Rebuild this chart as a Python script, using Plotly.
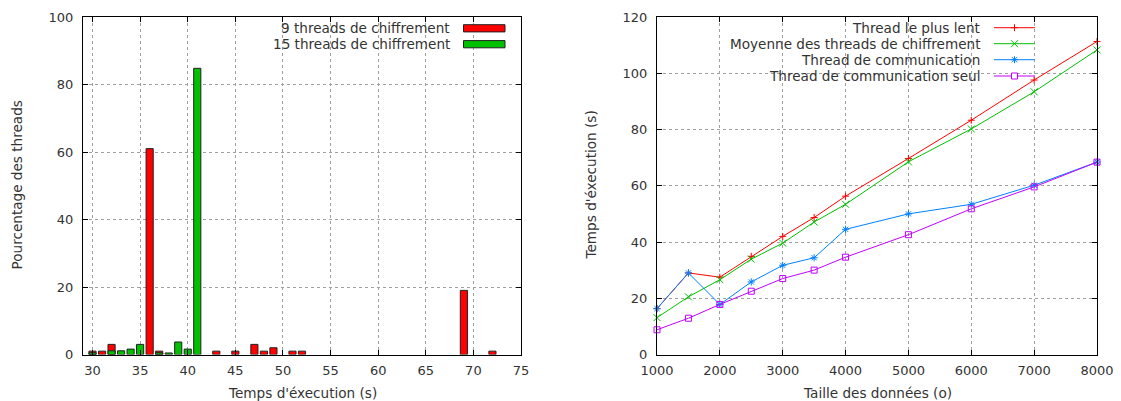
import plotly.graph_objects as go

# ---------------- data ----------------
# Left: distribution of thread execution times (%)
red_times = [30, 31, 32, 36, 37, 43, 45, 47, 48, 49, 51, 52, 69, 72]
red_pct = [1, 1, 3, 61, 1, 1, 1, 3, 1, 2, 1, 1, 19, 1]
green_times = [30, 32, 33, 34, 35, 37, 38, 39, 40, 41]
green_pct = [0.5, 1.1, 1.1, 1.6, 3, 0.5, 0.45, 3.7, 1.6, 84.8]
bar_names = ["9 threads de chiffrement", "15 threads de chiffrement"]

# Right: execution time vs data size
sizes = [1000, 1500, 2000, 2500, 3000, 3500, 4000, 5000, 6000, 7000, 8000]
slowest = [16.3, 29, 27.5, 34.9, 42, 48.7, 56.3, 69.7, 83.3, 97.6, 111.3]
mean_enc = [13.1, 20.5, 26.6, 33.9, 39.6, 47.1, 53.4, 68.5, 80.2, 93.4, 108.3]
comm = [16.3, 29, 17.8, 25.8, 31.7, 34.4, 44.5, 50, 53.4, 60.2, 68.4]
comm_alone = [8.8, 12.9, 17.8, 22.5, 27, 30, 34.6, 42.6, 51.8, 59.6, 68.4]
line_names = ["Thread le plus lent", "Moyenne des threads de chiffrement",
              "Thread de communication", "Thread de communication seul"]

left_xticks = [30, 35, 40, 45, 50, 55, 60, 65, 70, 75]
left_yticks = [0, 20, 40, 60, 80, 100]
right_xticks = [1000, 2000, 3000, 4000, 5000, 6000, 7000, 8000]
right_yticks = [0, 20, 40, 60, 80, 100, 120]

# ---------------- style ----------------
OFF = 8                      # default page body margin
W, H = 1121 - OFF, 401 - OFF
FONT = "DejaVu Sans"
TXT = "#333333"
TICK_SIZE = 13
TEXT_SIZE = 13.6
RED, GREEN, BLUE, MAGENTA = "#ff0000", "#00c000", "#0080ff", "#c000ff"
line_colors = [RED, GREEN, BLUE, MAGENTA]
symbols = ["cross-thin-open", "x-thin-open", "asterisk-open", "square-open"]
msizes = [5, 7, 6, 6]


def px(x):
    """screen pixel x -> paper fraction"""
    return (x - OFF) / W


def py(y):
    """screen pixel y -> paper fraction"""
    return 1 - (y - OFF) / H


fig = go.Figure()

fig.add_trace(go.Bar(x=red_times, y=red_pct, name=bar_names[0], width=0.75,
                     marker=dict(color=RED, line=dict(color="#202020", width=1)),
                     xaxis="x", yaxis="y", showlegend=False))
fig.add_trace(go.Bar(x=green_times, y=green_pct, name=bar_names[1], width=0.75,
                     marker=dict(color=GREEN, line=dict(color="#202020", width=1)),
                     xaxis="x", yaxis="y", showlegend=False))

for vals, name, col, sym, ms in zip([slowest, mean_enc, comm, comm_alone],
                                    line_names, line_colors, symbols, msizes):
    fig.add_trace(go.Scatter(x=sizes, y=vals, name=name, mode="lines+markers",
                             line=dict(color=col, width=1),
                             marker=dict(symbol=sym, size=ms, color=col,
                                         line=dict(color=col, width=1)),
                             xaxis="x2", yaxis="y2", showlegend=False, cliponaxis=False))

axis_common = dict(
    showline=True, linecolor="#000000", linewidth=1, mirror="allticks",
    ticks="inside", ticklen=5, tickcolor="#000000", tickwidth=1,
    showgrid=True, gridcolor="#a0a0a0", griddash="dot", gridwidth=1,
    zeroline=False, automargin=False,
    tickfont=dict(family=FONT, size=TICK_SIZE, color=TXT),
)

ydom = [py(354.5), py(17)]

fig.update_layout(
    width=W, height=H,
    margin=dict(l=0, r=0, t=0, b=0),
    paper_bgcolor="white", plot_bgcolor="white",
    barmode="overlay", showlegend=False,
    xaxis=dict(domain=[px(83), px(521)], range=[29, 75], tickvals=left_xticks,
               ticklabelstandoff=4, anchor="y", **axis_common),
    yaxis=dict(domain=ydom, range=[0, 100], tickvals=left_yticks,
               ticklabelstandoff=6, anchor="x", **axis_common),
    xaxis2=dict(domain=[px(657), px(1097)], range=[1000, 8000], tickvals=right_xticks,
                ticklabelstandoff=4, anchor="y2", **axis_common),
    yaxis2=dict(domain=ydom, range=[0, 120], tickvals=right_yticks,
                ticklabelstandoff=6, anchor="x2", **axis_common),
)

shapes = []
annotations = []

# opaque key backgrounds (above grid, below data)
shapes.append(dict(type="rect", xref="paper", yref="paper", layer="between",
                   x0=px(229), x1=px(520), y0=py(52), y1=py(17.6),
                   fillcolor="white", line=dict(width=0)))
shapes.append(dict(type="rect", xref="paper", yref="paper", layer="between",
                   x0=px(712), x1=px(1038), y0=py(84), y1=py(17.6),
                   fillcolor="white", line=dict(width=0)))

key_font = dict(family=FONT, size=TEXT_SIZE, color=TXT)

# left key
left_rows = [28.3, 44.2]
for name, col, yc in zip(bar_names, [RED, GREEN], left_rows):
    annotations.append(dict(text=name, xref="paper", yref="paper", x=px(452), y=py(yc),
                            xanchor="right", yanchor="middle", showarrow=False,
                            font=key_font))
    shapes.append(dict(type="rect", xref="paper", yref="paper", layer="above",
                       x0=px(463.5), x1=px(505), y0=py(yc + 3.6), y1=py(yc - 3.6),
                       fillcolor=col, line=dict(color="#202020", width=1)))

# right key
right_rows = [27.7, 43.7, 59.7, 76.0]
for i, (name, col, yc) in enumerate(zip(line_names, line_colors, right_rows)):
    annotations.append(dict(text=name, xref="paper", yref="paper", x=px(982), y=py(yc),
                            xanchor="right", yanchor="middle", showarrow=False,
                            font=key_font))
    shapes.append(dict(type="line", xref="paper", yref="paper", layer="above",
                       x0=px(994), x1=px(1035), y0=py(yc), y1=py(yc),
                       line=dict(color=col, width=1)))
    cx = 1014.5
    r = 3.5
    segs = []
    if i == 0:  # plus
        segs = [(-r, 0, r, 0), (0, -r, 0, r)]
    elif i == 1:  # cross
        segs = [(-r, -r, r, r), (-r, r, r, -r)]
    elif i == 2:  # asterisk
        segs = [(-r, 0, r, 0), (0, -r, 0, r), (-2.6, -2.6, 2.6, 2.6), (-2.6, 2.6, 2.6, -2.6)]
    for (ax0, ay0, ax1, ay1) in segs:
        shapes.append(dict(type="line", xref="paper", yref="paper", layer="above",
                           x0=px(cx + ax0), y0=py(yc + ay0), x1=px(cx + ax1), y1=py(yc + ay1),
                           line=dict(color=col, width=1)))
    if i == 3:  # square
        shapes.append(dict(type="rect", xref="paper", yref="paper", layer="above",
                           x0=px(cx - 3), x1=px(cx + 3), y0=py(yc + 3), y1=py(yc - 3),
                           fillcolor="white", line=dict(color=col, width=1)))

# axis titles
title_font = dict(family=FONT, size=TEXT_SIZE, color=TXT)
annotations += [
    dict(text="Temps d'éxecution (s)", xref="paper", yref="paper", x=px(302), y=py(393),
         xanchor="center", yanchor="middle", showarrow=False, font=title_font),
    dict(text="Taille des données (o)", xref="paper", yref="paper", x=px(877), y=py(393),
         xanchor="center", yanchor="middle", showarrow=False, font=title_font),
    dict(text="Pourcentage des threads", xref="paper", yref="paper", x=px(17), y=py(185.5),
         xanchor="center", yanchor="middle", showarrow=False, textangle=-90, font=title_font),
    dict(text="Temps d'éxecution (s)", xref="paper", yref="paper", x=px(591), y=py(185.5),
         xanchor="center", yanchor="middle", showarrow=False, textangle=-90, font=title_font),
]

fig.update_layout(shapes=shapes, annotations=annotations)
fig.write_html("out.html")
